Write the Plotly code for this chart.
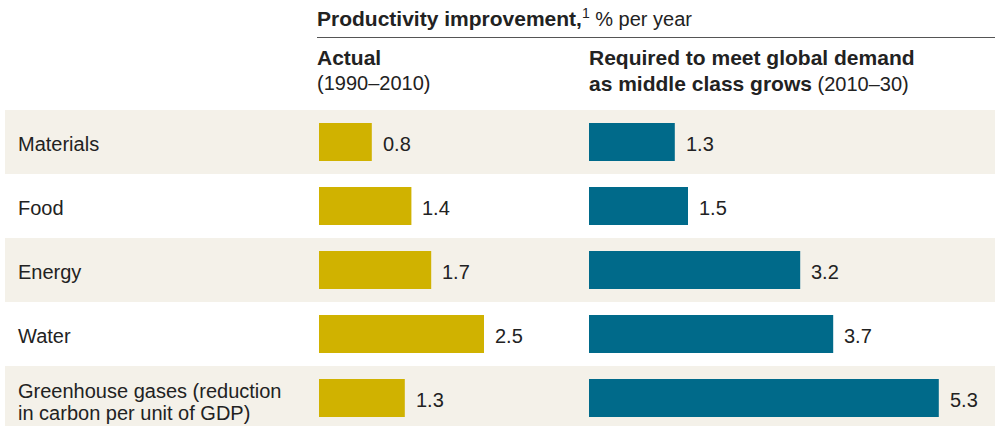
import plotly.graph_objects as go

# ---- data ----
categories = ["Materials", "Food", "Energy", "Water",
              "Greenhouse gases (reduction<br>in carbon per unit of GDP)"]
actual = [0.8, 1.4, 1.7, 2.5, 1.3]
required = [1.3, 1.5, 3.2, 3.7, 5.3]
title_bold = "Productivity improvement,"
title_rest = " % per year"
actual_head = ["Actual", "(1990–2010)"]
required_head = ["Required to meet global demand", "as middle class grows", " (2010–30)"]

# ---- style ----
W, H = 995, 426
FONT = "Liberation Sans, Arial, Helvetica, sans-serif"
TXT = "#222222"
GOLD = "#D0B200"
TEAL = "#006A8A"
BAND = "#F4F1E9"

def px_x(p):
    return p / W

def px_y(p):
    return 1 - p / H

top_px = 110
band_px = 64
plot_h = H - top_px
n = len(categories)
y_range = [-0.5 + plot_h / band_px, -0.5]

fig = go.Figure()
fig.add_trace(go.Bar(y=list(range(n)), x=actual, orientation="h",
                     marker=dict(color=GOLD, line=dict(width=0)), width=0.59,
                     xaxis="x", yaxis="y", hoverinfo="skip"))
fig.add_trace(go.Bar(y=list(range(n)), x=required, orientation="h",
                     marker=dict(color=TEAL, line=dict(width=0)), width=0.59,
                     xaxis="x2", yaxis="y", hoverinfo="skip"))

scale = 66
x1_0, x2_0 = 319, 589
axis_common = dict(showgrid=False, zeroline=False, showticklabels=False,
                   showline=False, ticks="", fixedrange=True)
fig.update_layout(
    width=W, height=H,
    margin=dict(l=0, r=0, t=0, b=0),
    paper_bgcolor="white", plot_bgcolor="rgba(0,0,0,0)",
    showlegend=False, barmode="overlay",
    font=dict(family=FONT, size=20, color=TXT),
    xaxis=dict(domain=[px_x(x1_0), px_x(x1_0 + scale * 4)], range=[0, 4],
               anchor="y", **axis_common),
    xaxis2=dict(domain=[px_x(x2_0), px_x(x2_0 + scale * 6)], range=[0, 6],
                anchor="y", **axis_common),
    yaxis=dict(domain=[0, plot_h / H], range=y_range, **axis_common),
)

shapes = []
for i in range(n):
    if i % 2 == 0:
        shapes.append(dict(type="rect", xref="paper", yref="y",
                           x0=px_x(5), x1=1, y0=i - 0.5, y1=i + 0.5,
                           fillcolor=BAND, line=dict(width=0), layer="below"))
shapes.append(dict(type="line", xref="paper", yref="paper",
                   x0=px_x(317), x1=1, y0=px_y(37.5), y1=px_y(37.5),
                   line=dict(color="#555555", width=1)))
fig.update_layout(shapes=shapes)

ann = []
# category labels
for i, c in enumerate(categories):
    lines = c.split("<br>")
    if len(lines) == 1:
        shifts = [-2]
    else:
        shifts = [7, -14.5]
    for ln, s in zip(lines, shifts):
        ann.append(dict(text=ln, xref="paper", yref="y", x=px_x(16), y=i,
                        xanchor="left", yanchor="middle", yshift=s,
                        showarrow=False, font=dict(size=20, color=TXT)))
# value labels
for i, v in enumerate(actual):
    ann.append(dict(text=f"{v:.1f}", xref="x", yref="y", x=v, y=i,
                    xanchor="left", yanchor="middle", xshift=9, yshift=-2,
                    showarrow=False, font=dict(size=20, color=TXT)))
for i, v in enumerate(required):
    ann.append(dict(text=f"{v:.1f}", xref="x2", yref="y", x=v, y=i,
                    xanchor="left", yanchor="middle", xshift=9, yshift=-2,
                    showarrow=False, font=dict(size=20, color=TXT)))
# headers
ann.append(dict(text=f"<b><span style='font-size:21px'>{title_bold}</span></b><sup>1</sup>{title_rest}",
                xref="paper", yref="paper", x=px_x(315), y=px_y(17),
                xanchor="left", yanchor="middle", showarrow=False,
                font=dict(size=20, color=TXT)))
ann.append(dict(text=f"<b>{actual_head[0]}</b>", xref="paper", yref="paper",
                x=px_x(315), y=px_y(58), xanchor="left", yanchor="middle",
                showarrow=False, font=dict(size=21, color=TXT)))
ann.append(dict(text=actual_head[1], xref="paper", yref="paper",
                x=px_x(315), y=px_y(83), xanchor="left", yanchor="middle",
                showarrow=False, font=dict(size=20, color=TXT)))
ann.append(dict(text=f"<b>{required_head[0]}</b>", xref="paper", yref="paper",
                x=px_x(587), y=px_y(58), xanchor="left", yanchor="middle",
                showarrow=False, font=dict(size=21, color=TXT)))
ann.append(dict(text=f"<b><span style='font-size:21px'>{required_head[1]}</span></b>{required_head[2]}",
                xref="paper", yref="paper",
                x=px_x(587), y=px_y(83), xanchor="left", yanchor="middle",
                showarrow=False, font=dict(size=20, color=TXT)))
fig.update_layout(annotations=ann)

fig.write_html("out.html", config={"displayModeBar": False},
               post_script="document.body.style.margin='0';document.body.style.overflow='hidden';")
